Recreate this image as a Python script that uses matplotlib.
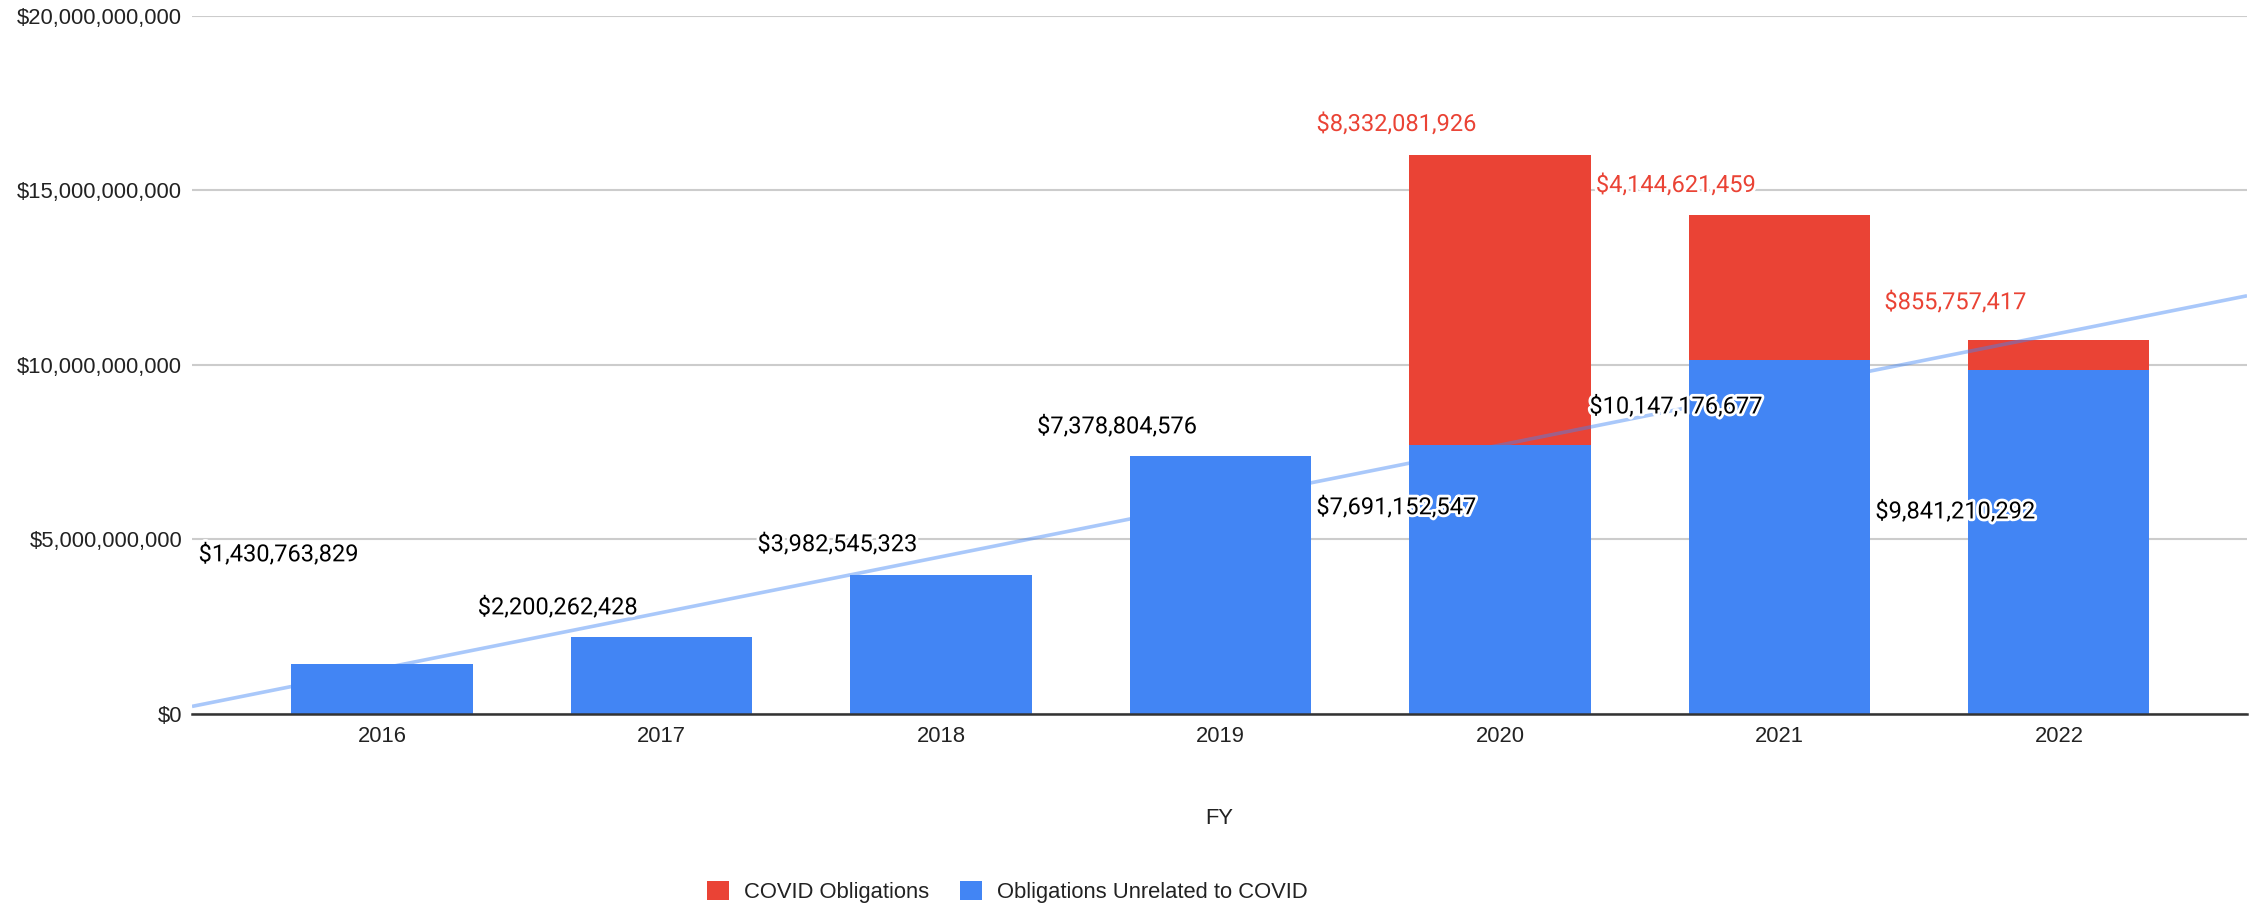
import numpy as np
import matplotlib
matplotlib.use("Agg")
import matplotlib.pyplot as plt
import matplotlib.patheffects as pe
from matplotlib.patches import Patch
from matplotlib.ticker import FuncFormatter

# data (fiscal years, obligations in dollars)
years = ["2016", "2017", "2018", "2019", "2020", "2021", "2022"]
unrelated = [1430763829, 2200262428, 3982545323, 7378804576, 7691152547, 10147176677, 9841210292]
covid = [0, 0, 0, 0, 8332081926, 4144621459, 855757417]

# where the data labels sit (in billions), as placed in the original chart
unrelated_label_y = [4.55, 3.03, 4.84, 8.22, 5.90, 8.79, 5.78]
covid_label_y = [0, 0, 0, 0, 16.89, 15.14, 11.78]

BLUE = "#4285F4"
RED = "#EA4335"

plt.rcParams["font.family"] = ["Liberation Sans", "DejaVu Sans"]
label_font = ["Liberation Sans Narrow", "Roboto", "DejaVu Sans"]

fig = plt.figure(figsize=(22.56, 9.07), dpi=100)
ax = fig.add_axes([192 / 2256, 193.5 / 907, (2247 - 192) / 2256, (713.5 - 16) / 907])

x = np.arange(len(years))
width = 0.648
ax.bar(x, unrelated, width, color=BLUE, zorder=2)
ax.bar(x, covid, width, bottom=unrelated, color=RED, zorder=2)

# linear trendline of the unrelated series
xmin, xmax = -0.68, 6.673
slope, intercept = np.polyfit(x, unrelated, 1)
xt = np.array([xmin, xmax])
ax.plot(xt, slope * xt + intercept, color=BLUE, alpha=0.45, lw=2.6, zorder=3,
        solid_capstyle="butt")

halo = [pe.withStroke(linewidth=4, foreground="white")]
money = lambda v: "${:,.0f}".format(v)
for i in range(len(years)):
    ax.text(x[i] - 0.37, unrelated_label_y[i] * 1e9, money(unrelated[i]),
            ha="center", va="center", fontsize=17, family=label_font,
            color="#000000", path_effects=halo, zorder=5)
    if covid[i]:
        ax.text(x[i] - 0.37, covid_label_y[i] * 1e9, money(covid[i]),
                ha="center", va="center", fontsize=17, family=label_font,
                color=RED, path_effects=halo, zorder=5)

ax.set_xlim(xmin, xmax)
ax.set_ylim(0, 20e9)
ax.set_yticks(np.arange(0, 20e9 + 1, 5e9))
ax.yaxis.set_major_formatter(FuncFormatter(lambda v, p: money(v)))
ax.set_xticks(x)
ax.set_xticklabels(years)
ax.tick_params(axis="both", length=0, labelsize=15.8, colors="#222222")
ax.tick_params(axis="y", pad=7)
ax.tick_params(axis="x", pad=9)

ax.grid(axis="y", color="#cccccc", lw=1.5, zorder=0)
ax.set_axisbelow(True)
for s in ["left", "right", "top"]:
    ax.spines[s].set_visible(False)
ax.spines["bottom"].set_color("#333333")
ax.spines["bottom"].set_linewidth(1.8)
ax.spines["bottom"].set_zorder(4)

fig.text(1219 / 2256, 1 - 818 / 907, "FY", ha="center", va="center",
         fontsize=15.8, color="#222222")

handles = [Patch(facecolor=RED, label="COVID Obligations"),
           Patch(facecolor=BLUE, label="Obligations Unrelated to COVID")]
fig.legend(handles=handles, loc="center", bbox_to_anchor=(1007.5 / 2256, 1 - 892 / 907),
           ncol=2, frameon=False, fontsize=15.8, handlelength=1.0, handleheight=1.0,
           handletextpad=0.7, columnspacing=1.4, labelcolor="#222222")

fig.savefig("out.png", dpi=100)
